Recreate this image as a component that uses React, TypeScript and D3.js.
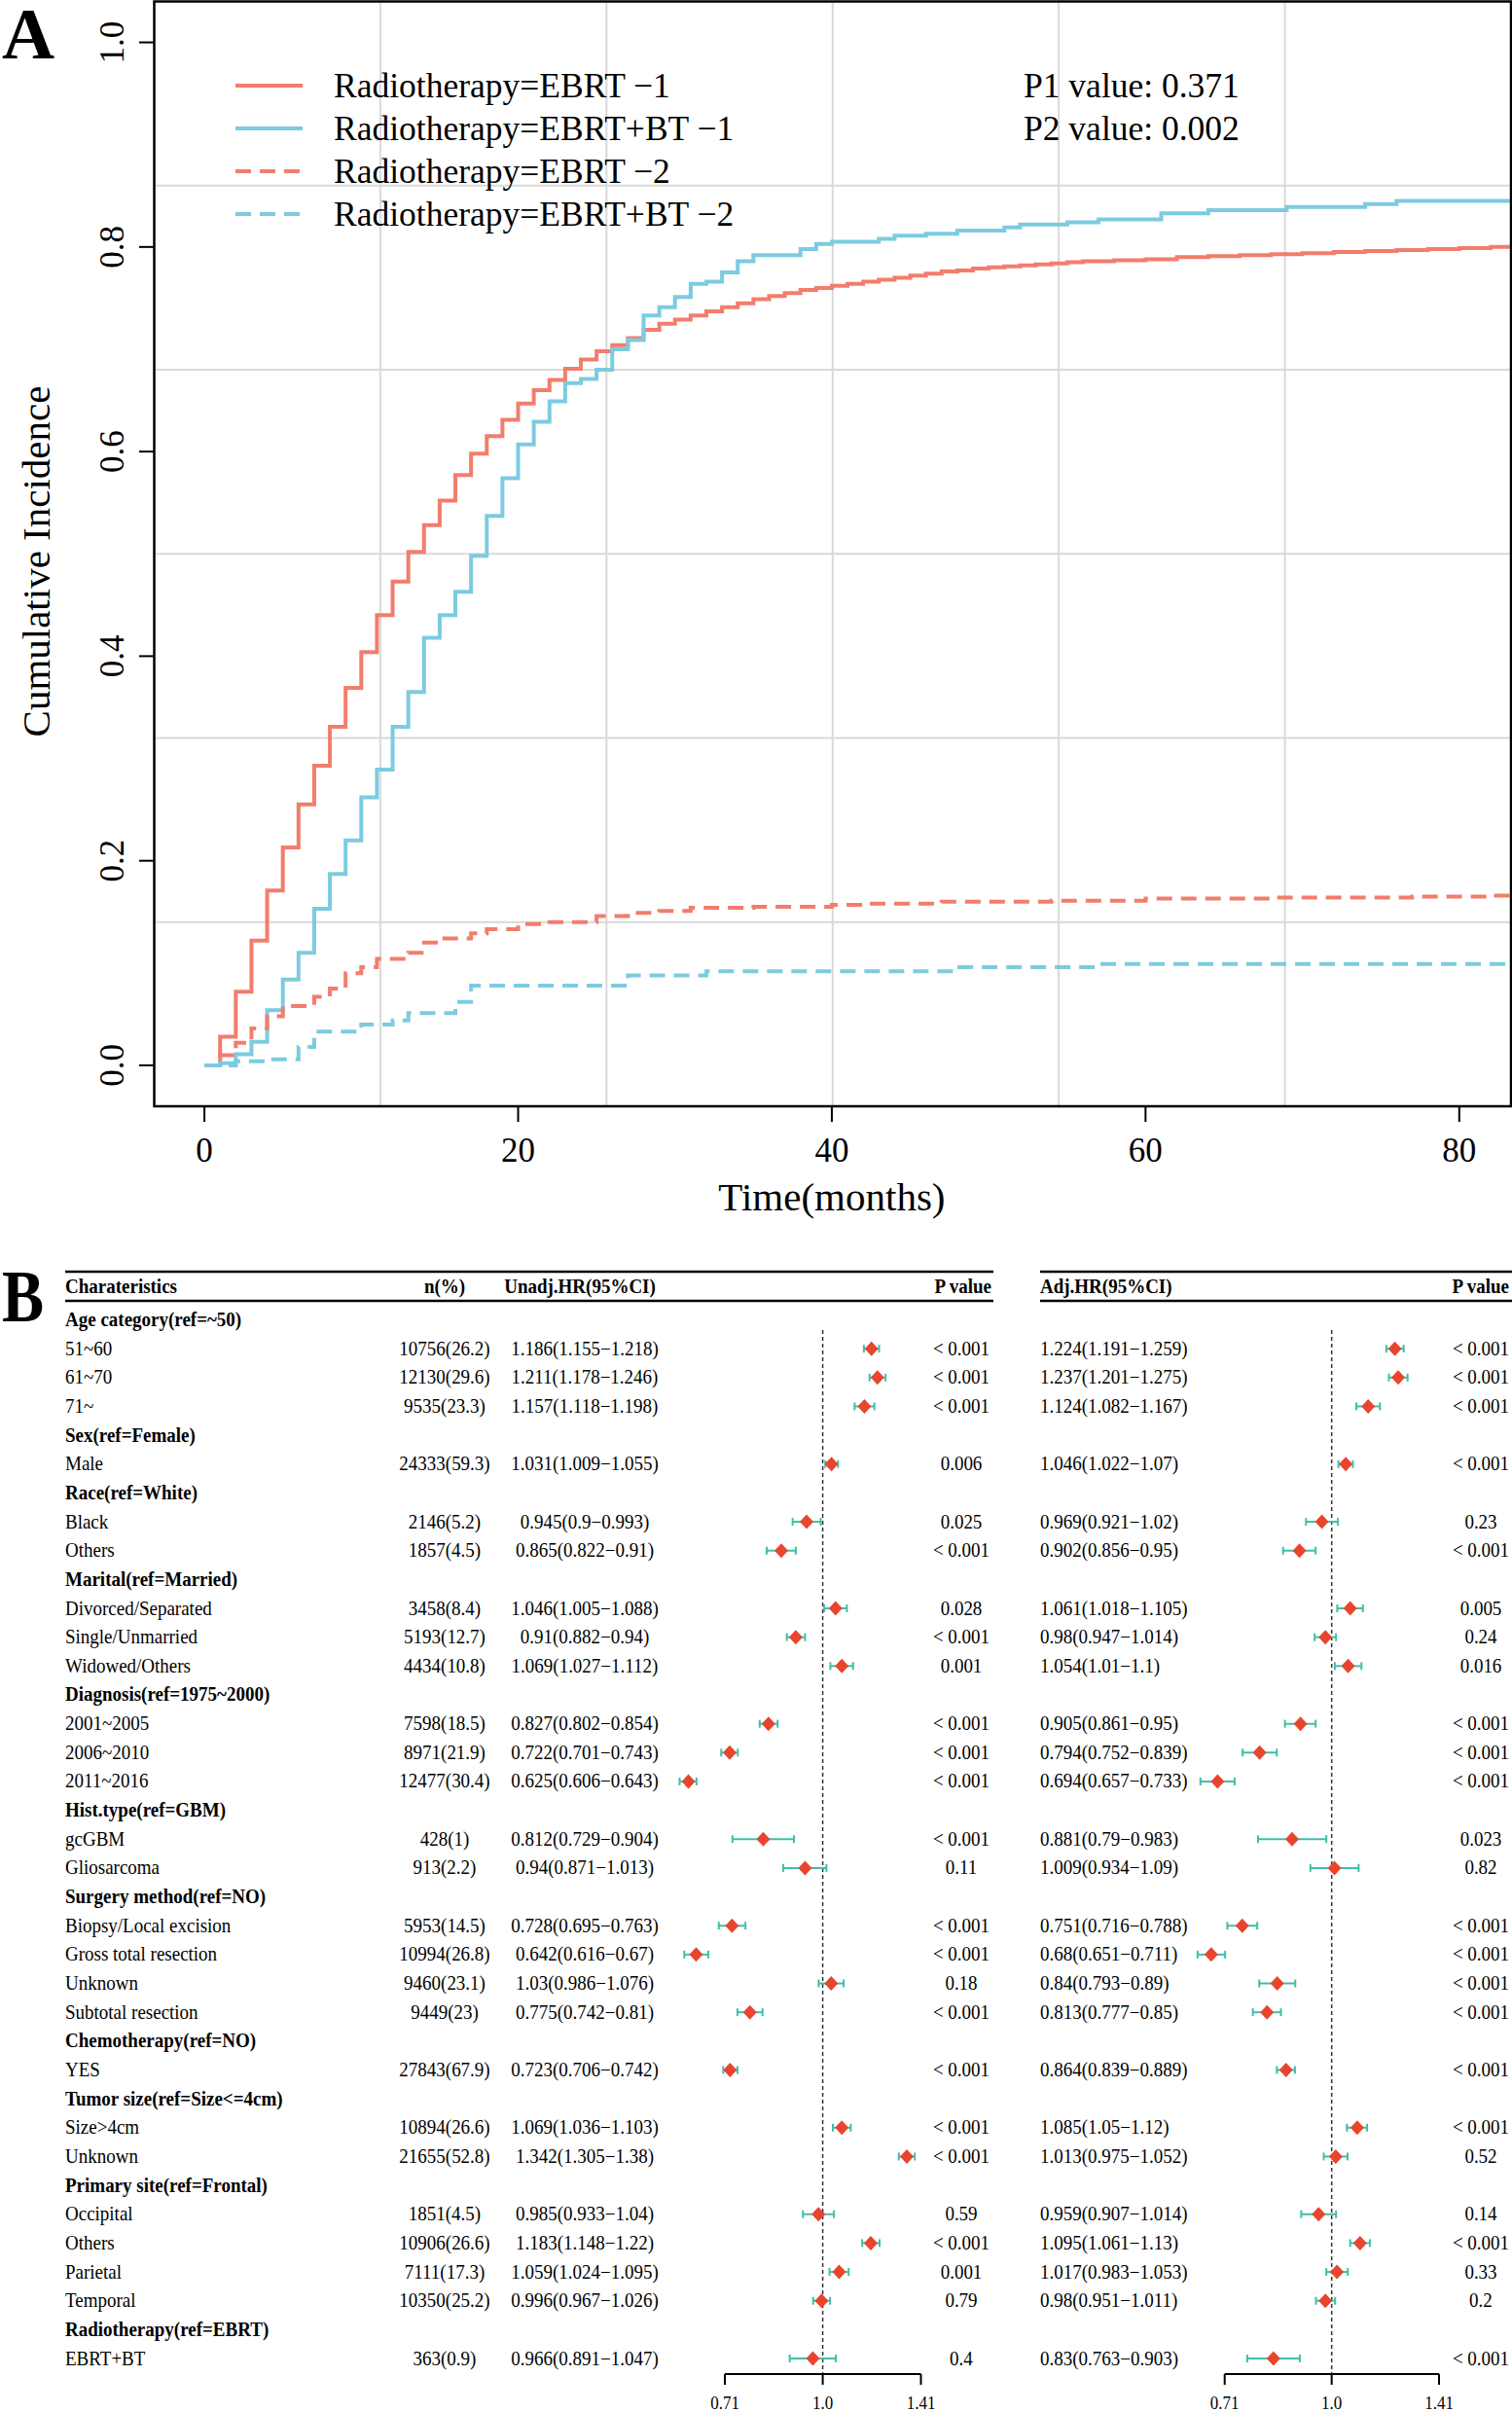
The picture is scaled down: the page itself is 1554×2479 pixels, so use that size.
import { useEffect } from 'react'
import * as d3 from 'd3'

const W = 1554
const H = 2479
const FONT = '"Liberation Serif", "Times New Roman", serif'
const RED = '#F27D6C'
const BLUE = '#7CCBE0'
const DIAMOND = '#E8452F'
const CI = '#3FBFA8'

// ---- panel A: cumulative incidence, [month, value]
const ebrt1 = [
    [0, 0], [1, 0.028], [2, 0.072], [3, 0.122], [4, 0.171], [5, 0.213], [6, 0.255],
    [7, 0.293], [8, 0.331], [9, 0.369], [10, 0.404], [11, 0.44], [12, 0.473],
    [13, 0.502], [14, 0.528], [15, 0.552], [16, 0.577], [17, 0.598], [18, 0.615],
    [19, 0.631], [20, 0.647], [21, 0.66], [22, 0.67], [23, 0.681], [24, 0.69],
    [25, 0.698], [26, 0.704], [27, 0.711], [28, 0.719], [29, 0.725], [30, 0.729],
    [31, 0.733], [32, 0.737], [33, 0.741], [34, 0.745], [35, 0.749], [36, 0.752],
    [37, 0.755], [38, 0.758], [39, 0.76], [40, 0.762], [41, 0.764], [42, 0.766],
    [43, 0.768], [44, 0.77], [45, 0.772], [46, 0.774], [47, 0.776], [48, 0.777],
    [49, 0.779], [50, 0.78], [51, 0.781], [52, 0.782], [53, 0.783], [54, 0.784],
    [55, 0.785], [56, 0.786], [58, 0.787], [60, 0.788], [62, 0.79], [64, 0.791],
    [66, 0.792], [68, 0.793], [70, 0.794], [72, 0.795], [74, 0.796], [76, 0.797],
    [78, 0.798], [80, 0.799], [82, 0.8]
]
const ebrtBt1 = [
    [0, 0], [1, 0.002], [2, 0.011], [3, 0.023], [4, 0.054], [5, 0.084], [6, 0.11],
    [7, 0.153], [8, 0.187], [9, 0.22], [10, 0.262], [11, 0.289], [12, 0.331],
    [13, 0.365], [14, 0.418], [15, 0.44], [16, 0.463], [17, 0.498], [18, 0.537],
    [19, 0.574], [20, 0.607], [21, 0.629], [22, 0.649], [23, 0.667], [24, 0.671],
    [25, 0.68], [26, 0.7], [27, 0.709], [28, 0.733], [29, 0.741], [30, 0.751],
    [31, 0.764], [32, 0.766], [33, 0.775], [34, 0.786], [35, 0.792], [38, 0.798],
    [39, 0.803], [40, 0.805], [43, 0.808], [44, 0.811], [46, 0.813], [48, 0.816],
    [51, 0.819], [52, 0.822], [55, 0.824], [57, 0.827], [61, 0.833], [64, 0.836],
    [69, 0.839], [74, 0.842], [76, 0.845]
]
const ebrt2 = [
    [0, 0], [1, 0.01], [2, 0.022], [3, 0.036], [4, 0.048], [5, 0.058], [7, 0.067],
    [8, 0.075], [9, 0.09], [10, 0.096], [11, 0.104], [13, 0.11], [14, 0.12],
    [15, 0.124], [17, 0.129], [18, 0.133], [20, 0.138], [22, 0.14], [25, 0.146],
    [27, 0.149], [29, 0.151], [31, 0.154], [35, 0.155], [40, 0.157], [42, 0.158],
    [47, 0.16], [54, 0.161], [60, 0.163], [68, 0.164], [77, 0.165], [82, 0.166]
]
const ebrtBt2 = [
    [0, 0], [2, 0.004], [4, 0.006], [6, 0.018], [7, 0.033], [10, 0.04], [12, 0.044],
    [13, 0.051], [16, 0.062], [17, 0.078], [27, 0.088], [32, 0.092], [48, 0.096],
    [57, 0.099]
]

const legendLabels = [
    'Radiotherapy=EBRT \u22121',
    'Radiotherapy=EBRT+BT \u22121',
    'Radiotherapy=EBRT \u22122',
    'Radiotherapy=EBRT+BT \u22122'
]
const pValueLabels = ['P1 value: 0.371', 'P2 value: 0.002']
const xTicks = [0, 20, 40, 60, 80]
const yTicks = [0, 0.2, 0.4, 0.6, 0.8, 1.0]

// ---- panel B: forest plot rows (null = group header row)
const rowLabels = [
    'Age category(ref=~50)', '51~60', '61~70', '71~',
    'Sex(ref=Female)', 'Male',
    'Race(ref=White)', 'Black', 'Others',
    'Marital(ref=Married)', 'Divorced/Separated', 'Single/Unmarried', 'Widowed/Others',
    'Diagnosis(ref=1975~2000)', '2001~2005', '2006~2010', '2011~2016',
    'Hist.type(ref=GBM)', 'gcGBM', 'Gliosarcoma',
    'Surgery method(ref=NO)', 'Biopsy/Local excision', 'Gross total resection', 'Unknown', 'Subtotal resection',
    'Chemotherapy(ref=NO)', 'YES',
    'Tumor size(ref=Size<=4cm)', 'Size>4cm', 'Unknown',
    'Primary site(ref=Frontal)', 'Occipital', 'Others', 'Parietal', 'Temporal',
    'Radiotherapy(ref=EBRT)', 'EBRT+BT'
]
const nPct = [
    null, '10756(26.2)', '12130(29.6)', '9535(23.3)',
    null, '24333(59.3)',
    null, '2146(5.2)', '1857(4.5)',
    null, '3458(8.4)', '5193(12.7)', '4434(10.8)',
    null, '7598(18.5)', '8971(21.9)', '12477(30.4)',
    null, '428(1)', '913(2.2)',
    null, '5953(14.5)', '10994(26.8)', '9460(23.1)', '9449(23)',
    null, '27843(67.9)',
    null, '10894(26.6)', '21655(52.8)',
    null, '1851(4.5)', '10906(26.6)', '7111(17.3)', '10350(25.2)',
    null, '363(0.9)'
]
const unadjHR = [
    null, [1.186, 1.155, 1.218], [1.211, 1.178, 1.246], [1.157, 1.118, 1.198],
    null, [1.031, 1.009, 1.055],
    null, [0.945, 0.9, 0.993], [0.865, 0.822, 0.91],
    null, [1.046, 1.005, 1.088], [0.91, 0.882, 0.94], [1.069, 1.027, 1.112],
    null, [0.827, 0.802, 0.854], [0.722, 0.701, 0.743], [0.625, 0.606, 0.643],
    null, [0.812, 0.729, 0.904], [0.94, 0.871, 1.013],
    null, [0.728, 0.695, 0.763], [0.642, 0.616, 0.67], [1.03, 0.986, 1.076], [0.775, 0.742, 0.81],
    null, [0.723, 0.706, 0.742],
    null, [1.069, 1.036, 1.103], [1.342, 1.305, 1.38],
    null, [0.985, 0.933, 1.04], [1.183, 1.148, 1.22], [1.059, 1.024, 1.095], [0.996, 0.967, 1.026],
    null, [0.966, 0.891, 1.047]
]
const unadjP = [
    null, '< 0.001', '< 0.001', '< 0.001',
    null, '0.006',
    null, '0.025', '< 0.001',
    null, '0.028', '< 0.001', '0.001',
    null, '< 0.001', '< 0.001', '< 0.001',
    null, '< 0.001', '0.11',
    null, '< 0.001', '< 0.001', '0.18', '< 0.001',
    null, '< 0.001',
    null, '< 0.001', '< 0.001',
    null, '0.59', '< 0.001', '0.001', '0.79',
    null, '0.4'
]
const adjHR = [
    null, [1.224, 1.191, 1.259], [1.237, 1.201, 1.275], [1.124, 1.082, 1.167],
    null, [1.046, 1.022, 1.07],
    null, [0.969, 0.921, 1.02], [0.902, 0.856, 0.95],
    null, [1.061, 1.018, 1.105], [0.98, 0.947, 1.014], [1.054, 1.01, 1.1],
    null, [0.905, 0.861, 0.95], [0.794, 0.752, 0.839], [0.694, 0.657, 0.733],
    null, [0.881, 0.79, 0.983], [1.009, 0.934, 1.09],
    null, [0.751, 0.716, 0.788], [0.68, 0.651, 0.711], [0.84, 0.793, 0.89], [0.813, 0.777, 0.85],
    null, [0.864, 0.839, 0.889],
    null, [1.085, 1.05, 1.12], [1.013, 0.975, 1.052],
    null, [0.959, 0.907, 1.014], [1.095, 1.061, 1.13], [1.017, 0.983, 1.053], [0.98, 0.951, 1.011],
    null, [0.83, 0.763, 0.903]
]
const adjP = [
    null, '< 0.001', '< 0.001', '< 0.001',
    null, '< 0.001',
    null, '0.23', '< 0.001',
    null, '0.005', '0.24', '0.016',
    null, '< 0.001', '< 0.001', '< 0.001',
    null, '0.023', '0.82',
    null, '< 0.001', '< 0.001', '< 0.001', '< 0.001',
    null, '< 0.001',
    null, '< 0.001', '0.52',
    null, '0.14', '< 0.001', '0.33', '0.2',
    null, '< 0.001'
]
const hrTicks = [0.71, 1.0, 1.41]

const hrText = (h) => `${h[0]}(${h[1]}\u2212${h[2]})`

// ---- scales
const xA = d3.scaleLinear().domain([-3.2, 83.3]).range([158.5, 1553])
const yA = d3.scaleLinear().domain([-0.04, 1.04]).range([1137, 1.5])
const gridX = d3.range(1, 6).map((k) => -3.2 + (k * 86.5) / 6)
const gridY = d3.range(1, 6).map((k) => -0.04 + k * 0.18)

const rowY = d3.scaleLinear().domain([0, 36]).range([1356.5, 2424])
const xL = d3.scaleLog().domain([0.71, 1.41]).range([745, 946.5])
const xR = d3.scaleLog().domain([0.71, 1.41]).range([1258.7, 1479])

const stepLine = d3
    .line()
    .x((d) => xA(d[0]))
    .y((d) => yA(d[1]))
    .curve(d3.curveStepAfter)

const stepPath = (pts) => stepLine([...pts, [83.3, pts[pts.length - 1][1]]])

const curves = [
    { data: ebrt1, color: RED, dash: null },
    { data: ebrtBt1, color: BLUE, dash: null },
    { data: ebrt2, color: RED, dash: '16 9' },
    { data: ebrtBt2, color: BLUE, dash: '16 9' }
]

// panel B text is a little taller than wide in the original
const T = ({ x, y, children, ...rest }) => (
    <text transform={`translate(${x},${y}) scale(1,1.08)`} {...rest}>
        {children}
    </text>
)

const Forest = ({ scale, hr }) => (
    <g>
        <line
            x1={scale(1)}
            x2={scale(1)}
            y1={1367}
            y2={2440}
            stroke="#333"
            strokeWidth="1.5"
            strokeDasharray="4 3"
        />
        {hr.map((h, i) =>
            h ? (
                <g key={i}>
                    <line x1={scale(h[1])} x2={scale(h[2])} y1={rowY(i)} y2={rowY(i)} stroke={CI} strokeWidth="2" />
                    <line x1={scale(h[1])} x2={scale(h[1])} y1={rowY(i) - 4} y2={rowY(i) + 4} stroke={CI} strokeWidth="2" />
                    <line x1={scale(h[2])} x2={scale(h[2])} y1={rowY(i) - 4} y2={rowY(i) + 4} stroke={CI} strokeWidth="2" />
                    <path
                        d={`M${scale(h[0]) - 7},${rowY(i)}L${scale(h[0])},${rowY(i) - 7.5}L${scale(h[0]) + 7},${rowY(i)}L${scale(h[0])},${rowY(i) + 7.5}Z`}
                        fill={DIAMOND}
                    />
                </g>
            ) : null
        )}
        <line x1={scale(0.71)} x2={scale(1.41)} y1={2440} y2={2440} stroke="#000" strokeWidth="2" />
        {hrTicks.map((t) => (
            <g key={t}>
                <line x1={scale(t)} x2={scale(t)} y1={2440} y2={2451} stroke="#000" strokeWidth="2" />
                <T x={scale(t)} y={2476} fontSize="17" textAnchor="middle">
                    {t.toFixed(t === 1 ? 1 : 2)}
                </T>
            </g>
        ))}
    </g>
)

export default function App() {
    useEffect(() => {
        document.body.style.margin = '0'
    }, [])

    return (
        <svg width={W} height={H} style={{ display: 'block', background: '#fff' }} fontFamily={FONT}>
            <rect width={W} height={H} fill="#fff" />
            {/* ---------- A ---------- */}
            <text x={2} y={60} fontSize="75" fontWeight="bold">A</text>
            <defs>
                <clipPath id="boxA">
                    <rect x={158.5} y={1.5} width={1553 - 158.5} height={1137 - 1.5} />
                </clipPath>
            </defs>
            <g stroke="#D9D9D9" strokeWidth="2">
                {gridX.map((g) => (
                    <line key={g} x1={xA(g)} x2={xA(g)} y1={1.5} y2={1137} />
                ))}
                {gridY.map((g) => (
                    <line key={g} x1={158.5} x2={1553} y1={yA(g)} y2={yA(g)} />
                ))}
            </g>
            <g clipPath="url(#boxA)" fill="none">
                {curves.map((c, i) => (
                    <path
                        key={i}
                        d={stepPath(c.data)}
                        stroke={c.color}
                        strokeWidth="4"
                        strokeDasharray={c.dash || undefined}
                    />
                ))}
            </g>
            <rect x={158.5} y={1.5} width={1553 - 158.5} height={1137 - 1.5} fill="none" stroke="#000" strokeWidth="2.5" />
            {yTicks.map((t) => (
                <g key={t}>
                    <line x1={143} x2={158.5} y1={yA(t)} y2={yA(t)} stroke="#000" strokeWidth="2" />
                    <text
                        transform={`translate(127,${yA(t)}) rotate(-90)`}
                        fontSize="35"
                        textAnchor="middle"
                    >
                        {t.toFixed(1)}
                    </text>
                </g>
            ))}
            {xTicks.map((t) => (
                <g key={t}>
                    <line x1={xA(t)} x2={xA(t)} y1={1137} y2={1153} stroke="#000" strokeWidth="2" />
                    <text x={xA(t)} y={1194} fontSize="35" textAnchor="middle">
                        {t}
                    </text>
                </g>
            ))}
            <text x={xA(40)} y={1244} fontSize="41" textAnchor="middle">Time(months)</text>
            <text transform="translate(51,577) rotate(-90)" fontSize="41" textAnchor="middle">
                Cumulative Incidence
            </text>
            {legendLabels.map((l, i) => (
                <g key={l}>
                    <line
                        x1={242}
                        x2={311}
                        y1={88 + i * 44}
                        y2={88 + i * 44}
                        stroke={curves[i].color}
                        strokeWidth="4"
                        strokeDasharray={curves[i].dash || undefined}
                    />
                    <text x={343} y={100 + i * 44} fontSize="35.5">{l}</text>
                </g>
            ))}
            {pValueLabels.map((p, i) => (
                <text key={p} x={1052} y={100 + i * 44} fontSize="35.5">{p}</text>
            ))}

            {/* ---------- B ---------- */}
            <text transform="translate(2,1358) scale(0.85,1)" fontSize="76" fontWeight="bold">B</text>
            <g stroke="#000" strokeWidth="2.5">
                <line x1={67} x2={1021} y1={1307} y2={1307} />
                <line x1={67} x2={1021} y1={1337} y2={1337} />
                <line x1={1069} x2={1554} y1={1307} y2={1307} />
                <line x1={1069} x2={1554} y1={1337} y2={1337} />
            </g>
            <g fontSize="19" fontWeight="bold">
                <T x={67} y={1329}>Charateristics</T>
                <T x={457} y={1329} textAnchor="middle">n(%)</T>
                <T x={596} y={1329} textAnchor="middle">Unadj.HR(95%CI)</T>
                <T x={1019} y={1329} textAnchor="end">P value</T>
                <T x={1069} y={1329}>Adj.HR(95%CI)</T>
                <T x={1551} y={1329} textAnchor="end">P value</T>
            </g>
            <g fontSize="19">
                {rowLabels.map((l, i) => (
                    <g key={i}>
                        <T x={67} y={rowY(i) + 6.5} fontWeight={nPct[i] ? 'normal' : 'bold'}>
                            {l}
                        </T>
                        {nPct[i] && (
                            <>
                                <T x={457} y={rowY(i) + 6.5} textAnchor="middle">{nPct[i]}</T>
                                <T x={601} y={rowY(i) + 6.5} textAnchor="middle">{hrText(unadjHR[i])}</T>
                                <T x={988} y={rowY(i) + 6.5} textAnchor="middle">{unadjP[i]}</T>
                                <T x={1069} y={rowY(i) + 6.5}>{hrText(adjHR[i])}</T>
                                <T x={1522} y={rowY(i) + 6.5} textAnchor="middle">{adjP[i]}</T>
                            </>
                        )}
                    </g>
                ))}
            </g>
            <Forest scale={xL} hr={unadjHR} />
            <Forest scale={xR} hr={adjHR} />
        </svg>
    )
}
